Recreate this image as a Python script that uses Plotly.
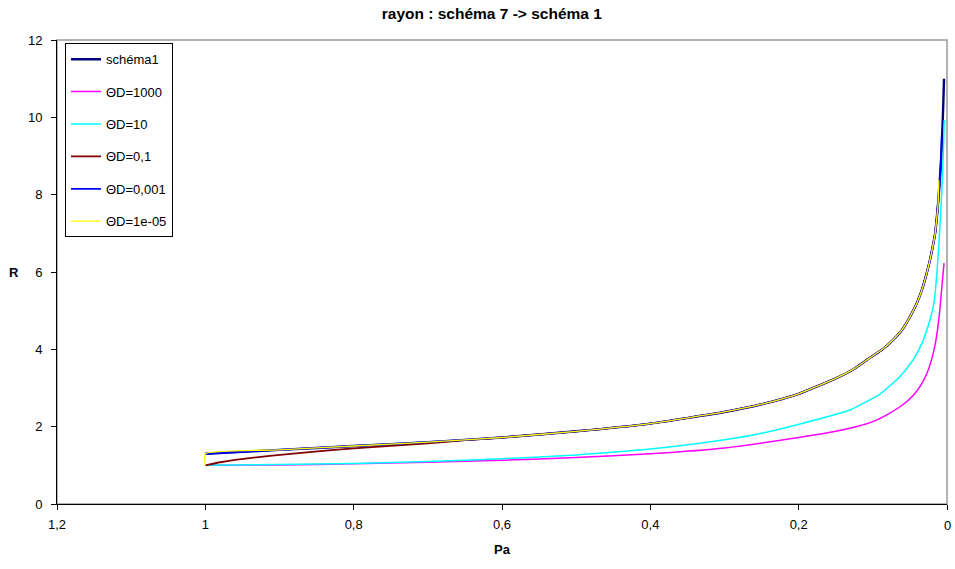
import plotly.graph_objects as go

# --- data ---
pa_schema1 = [1.0, 0.9, 0.8, 0.7, 0.6, 0.5, 0.4, 0.3, 0.25, 0.2, 0.15, 0.125, 0.104, 0.087, 0.073, 0.06, 0.05, 0.041, 0.034, 0.028, 0.023, 0.019, 0.016, 0.014, 0.012, 0.010, 0.008, 0.006, 0.005, 0.004]
r_schema1 = [1.30, 1.40, 1.50, 1.60, 1.72, 1.88, 2.08, 2.38, 2.58, 2.85, 3.25, 3.50, 3.78, 4.00, 4.24, 4.52, 4.84, 5.18, 5.53, 5.92, 6.31, 6.68, 7.00, 7.35, 7.78, 8.30, 8.90, 9.80, 10.35, 11.0]

pa_1000 = [1.0, 0.9, 0.8, 0.7, 0.6, 0.5, 0.4, 0.3, 0.2, 0.15, 0.12, 0.1, 0.08, 0.06, 0.045, 0.035, 0.027, 0.021, 0.016, 0.0125, 0.0095, 0.007, 0.0055, 0.004]
r_1000 = [1.0, 1.01, 1.04, 1.08, 1.13, 1.20, 1.30, 1.45, 1.72, 1.88, 2.01, 2.13, 2.32, 2.56, 2.82, 3.08, 3.38, 3.72, 4.12, 4.55, 5.05, 5.60, 5.92, 6.23]

pa_10 = [1.0, 0.9, 0.8, 0.7, 0.6, 0.5, 0.4, 0.3, 0.25, 0.198, 0.131, 0.09, 0.0634, 0.0459, 0.0337, 0.023, 0.0176, 0.0131, 0.0099, 0.0072, 0.0055, 0.0037]
r_10 = [1.0, 1.02, 1.05, 1.10, 1.17, 1.27, 1.42, 1.66, 1.83, 2.07, 2.43, 2.85, 3.30, 3.72, 4.16, 4.76, 5.20, 6.10, 7.06, 8.04, 8.79, 9.93]

pa_01 = [1.0, 0.98, 0.96, 0.91, 0.86, 0.8, 0.7, 0.65, 0.6, 0.5, 0.4, 0.3, 0.25, 0.2, 0.15, 0.125, 0.104, 0.087, 0.073, 0.06, 0.05, 0.041, 0.034, 0.028, 0.023, 0.019, 0.016, 0.014, 0.012]
r_01 = [1.0, 1.08, 1.14, 1.25, 1.34, 1.44, 1.57, 1.65, 1.72, 1.88, 2.08, 2.38, 2.58, 2.85, 3.25, 3.50, 3.78, 4.00, 4.24, 4.52, 4.84, 5.18, 5.53, 5.92, 6.31, 6.68, 7.00, 7.35, 7.78]

pa_0001 = [1.0, 0.9, 0.8, 0.7, 0.6, 0.5, 0.4, 0.3, 0.25, 0.2, 0.15, 0.125, 0.104, 0.087, 0.073, 0.06, 0.05, 0.041, 0.034, 0.028, 0.023, 0.019, 0.016, 0.014, 0.012, 0.010, 0.008, 0.007]
r_0001 = [1.30, 1.40, 1.50, 1.60, 1.72, 1.88, 2.08, 2.38, 2.58, 2.85, 3.25, 3.50, 3.78, 4.00, 4.24, 4.52, 4.84, 5.18, 5.53, 5.92, 6.31, 6.68, 7.00, 7.35, 7.78, 8.30, 8.90, 9.50]

pa_1e05 = [1.0, 1.0, 0.9, 0.8, 0.7, 0.6, 0.5, 0.4, 0.3, 0.25, 0.2, 0.15, 0.125, 0.104, 0.087, 0.073, 0.06, 0.05, 0.041, 0.034, 0.028, 0.023, 0.019, 0.016, 0.014, 0.012, 0.011]
r_1e05 = [1.0, 1.30, 1.40, 1.50, 1.60, 1.72, 1.88, 2.08, 2.38, 2.58, 2.85, 3.25, 3.50, 3.78, 4.00, 4.24, 4.52, 4.84, 5.18, 5.53, 5.92, 6.31, 6.68, 7.00, 7.35, 7.78, 8.38]

series = [
    ("schéma1", pa_schema1, r_schema1, "#000080", 2.4),
    ("ΘD=1000", pa_1000, r_1000, "#FF00FF", 1.5),
    ("ΘD=10", pa_10, r_10, "#00FFFF", 1.5),
    ("ΘD=0,1", pa_01, r_01, "#800000", 1.8),
    ("ΘD=0,001", pa_0001, r_0001, "#0000FF", 1.8),
    ("ΘD=1e-05", pa_1e05, r_1e05, "#FFFF00", 1.3),
]

x_ticks = [1.2, 1.0, 0.8, 0.6, 0.4, 0.2, 0.0]
x_tick_text = ["1,2", "1", "0,8", "0,6", "0,4", "0,2", "0"]
y_ticks = [0, 2, 4, 6, 8, 10, 12]

fig = go.Figure()
for i, (name, xs, ys, color, w) in enumerate(series):
    fig.add_trace(go.Scatter(
        x=xs, y=ys, mode="lines", name=name, legendgroup=f"g{i}",
        line=dict(color=color, width=w, shape="spline", smoothing=0.5),
        hoverinfo="skip",
    ))

font = "Liberation Sans, Arial, sans-serif"
# the label of the last tick (at the range edge) is written as an annotation
axis_text = x_tick_text[:-1] + [""]
annotations = [
    dict(text="<b>R</b>", xref="paper", yref="paper", x=0, y=0.5,
         xshift=-43, showarrow=False, xanchor="center", yanchor="middle",
         font=dict(size=13, family=font)),
    dict(text=x_tick_text[-1], xref="x", yref="paper", x=x_ticks[-1], y=0,
         yshift=-21, showarrow=False, xanchor="center", yanchor="middle",
         font=dict(size=13, family=font)),
]

fig.update_layout(
    width=955, height=569,
    margin=dict(l=57, r=8, t=40, b=65),
    paper_bgcolor="white", plot_bgcolor="white",
    separators=", ",
    font=dict(family=font, size=13, color="black"),
    title=dict(text="<b>rayon : schéma 7 -> schéma 1</b>", x=0.515, xanchor="center",
               yref="container", y=0.986, yanchor="top", font=dict(size=15.5, family=font)),
    showlegend=True,
    legend=dict(x=0.009, y=0.993, xanchor="left", yanchor="top",
                bgcolor="white", bordercolor="black", borderwidth=1,
                font=dict(size=13, family=font), tracegroupgap=12.5,
                itemwidth=30, entrywidth=72, entrywidthmode="pixels"),
    xaxis=dict(range=[1.2, 0], autorange=False, tickvals=x_ticks, ticktext=axis_text,
               showgrid=False, zeroline=False, showline=True, linecolor="black", linewidth=1,
               ticks="outside", ticklen=5, tickcolor="black", ticklabelstandoff=3,
               tickfont=dict(size=13), title=dict(text="<b>Pa</b>", font=dict(size=13), standoff=14)),
    yaxis=dict(range=[0, 12], tickvals=y_ticks, showgrid=False, zeroline=False,
               showline=True, linecolor="black", linewidth=1,
               ticks="outside", ticklen=5, tickcolor="black", tickfont=dict(size=13),
               ticklabelstandoff=6),
    shapes=[dict(type="rect", xref="paper", yref="paper", x0=0, x1=1, y0=0, y1=1,
                 line=dict(color="#999999", width=1.5), layer="below")],
    annotations=annotations,
)

fig.write_html("out.html", config={"displayModeBar": False},
               post_script="document.body.style.margin='0';document.body.style.overflow='hidden';")
